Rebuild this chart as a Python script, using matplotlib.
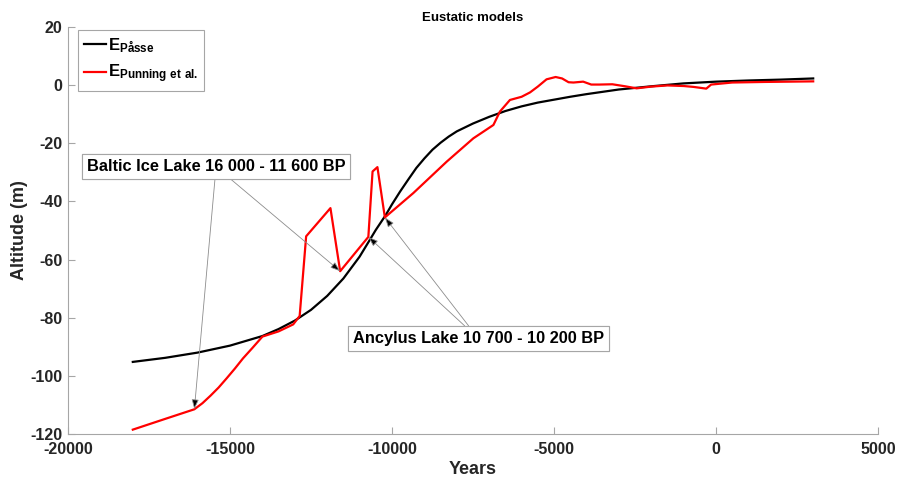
import matplotlib
matplotlib.use('Agg')
import matplotlib.pyplot as plt

plt.rcParams['font.family'] = ['Liberation Sans', 'DejaVu Sans']
plt.rcParams['font.weight'] = 'bold'
plt.rcParams['axes.unicode_minus'] = False
plt.rcParams['mathtext.fontset'] = 'custom'
plt.rcParams['mathtext.rm'] = 'Liberation Sans:bold'
plt.rcParams['mathtext.bf'] = 'Liberation Sans:bold'

# Påsse eustatic curve
passe_years = [-18000, -17000, -16000, -15000, -14000, -13500, -13000, -12500, -12000,
               -11500, -11000, -10700, -10500, -10200, -10000, -9750, -9500, -9250,
               -9000, -8750, -8500, -8250, -8000, -7500, -7000, -6500, -6000, -5500,
               -5000, -4500, -4000, -3500, -3000, -2000, -1000, 0, 1000, 2000, 3000]
passe_alt = [-95.2, -93.8, -92.0, -89.6, -86.3, -83.9, -81.0, -77.3, -72.5,
             -66.5, -59.0, -53.5, -49.8, -44.8, -41.0, -36.6, -32.5, -28.5,
             -25.2, -22.2, -19.8, -17.7, -15.9, -13.2, -10.9, -8.9, -7.3, -6.0,
             -5.0, -4.0, -3.1, -2.3, -1.5, -0.4, 0.6, 1.2, 1.6, 1.9, 2.3]

# Punning et al. curve
punning_years = [-18000, -17000, -16100, -15850, -15600, -15350, -15100, -14850, -14600,
                 -14300, -14000, -13500, -13050, -12850, -12650, -11900, -11600, -10730,
                 -10600, -10450, -10220, -9340, -8310, -7490, -6870, -6670, -6360, -6000,
                 -5740, -5500, -5230, -4950, -4750, -4550, -4400, -4100, -3850, -3600,
                 -3200, -2800, -2450, -2000, -1500, -1000, -700, -300, -150, 500, 1500,
                 3000]
punning_alt = [-118.5, -114.8, -111.5, -109.4, -106.8, -104.0, -100.8, -97.5, -94.0,
               -90.3, -86.5, -84.7, -82.3, -79.4, -52.0, -42.3, -64.0, -52.2,
               -29.7, -28.2, -45.5, -37.1, -26.3, -18.3, -13.7, -9.1, -5.1, -4.0,
               -2.5, -0.5, 2.0, 2.8, 2.3, 1.0, 0.9, 1.2, 0.2, 0.2,
               0.3, -0.4, -1.1, -0.5, -0.1, -0.3, -0.6, -1.2, 0.2, 0.9, 1.1,
               1.3]

# annotation targets (indices into the Punning series)
baltic_idx = [2, 16]
ancylus_idx = [17, 20]

fig = plt.figure(figsize=(8.99, 4.8), dpi=100)
ax = fig.add_axes([68 / 899, 1 - 434 / 480, 810 / 899, 407 / 480])

ax.plot(passe_years, passe_alt, color='black', lw=1.6, label=r'$\mathbf{E_{Påsse}}$')
ax.plot(punning_years, punning_alt, color='red', lw=1.6,
        label=r'$\mathbf{E_{Punning\ et\ al.}}$')

ax.set_xlim(-20000, 5000)
ax.set_ylim(-120, 20)
ax.set_xticks(range(-20000, 5001, 5000))
ax.set_yticks(range(-120, 21, 20))

for s in ['top', 'right']:
    ax.spines[s].set_visible(False)
for s in ['left', 'bottom']:
    ax.spines[s].set_color('#a6a6a6')
    ax.spines[s].set_linewidth(0.8)
ax.tick_params(direction='in', length=5, width=0.8, color='#a6a6a6',
               labelsize=11.5, labelcolor='#262626')
ax.tick_params(axis='x', pad=6)
ax.tick_params(axis='y', pad=4)

ax.set_xlabel('Years', fontsize=13, fontweight='bold', color='#262626', labelpad=3)
ax.set_ylabel('Altitude (m)', fontsize=13, fontweight='bold', color='#262626', labelpad=2)
ax.set_title('Eustatic models', fontsize=9.5, fontweight='bold', pad=4)

leg = ax.legend(loc='upper left', bbox_to_anchor=(10 / 810, 1 - 3 / 407), borderaxespad=0,
                fontsize=12, handlelength=1.3, handletextpad=0.15, fancybox=False,
                edgecolor='#a6a6a6', framealpha=1, borderpad=0.35, labelspacing=0.5)
leg.get_frame().set_linewidth(0.8)

box = dict(boxstyle='square,pad=0.3', fc='white', ec='#a6a6a6', lw=0.8)
arrow = dict(arrowstyle='-|>,head_length=0.5,head_width=0.18', ec='#8c8c8c', fc='black',
             lw=0.6, shrinkA=0, shrinkB=0)

for i in baltic_idx:
    ax.annotate('Baltic Ice Lake 16 000 - 11 600 BP',
                xy=(punning_years[i], punning_alt[i]), xytext=(-15430, -28.1),
                fontsize=11.8, fontweight='bold', ha='center', va='center',
                bbox=box, arrowprops=arrow)
for i in ancylus_idx:
    ax.annotate('Ancylus Lake 10 700 - 10 200 BP',
                xy=(punning_years[i], punning_alt[i]), xytext=(-7330, -87.2),
                fontsize=11.8, fontweight='bold', ha='center', va='center',
                bbox=box, arrowprops=arrow)

fig.savefig('out.png', dpi=100)
